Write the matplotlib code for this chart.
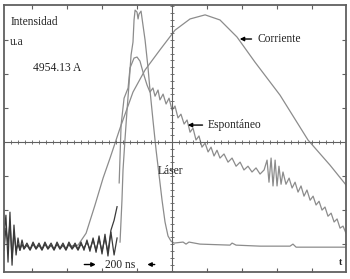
import numpy as np
import matplotlib
matplotlib.use('Agg')
import matplotlib.pyplot as plt

# tiempo en ns (200 ns por división, 0 en la línea central), intensidad en divisiones (u.a)

# ruido de la línea base a la izquierda
t_ruido = [-960, -949, -937, -926, -914, -903, -891, -880, -869, -857, -846, -829, -811,
           -794, -777, -760, -743, -726, -709, -691, -674, -657, -640, -623, -606, -589,
           -571, -554, -537, -520, -503, -486, -469, -451, -434, -417, -400, -383, -366,
           -349, -331, -314]
ruido_laser = [-2.74, -2.15, -3.53, -2.06, -3.62, -2.44, -3.32, -2.82, -3.18, -2.88, -3.12,
               -2.97, -3.15, -2.94, -3.12, -2.97, -3.15, -2.94, -3.12, -2.97, -3.15, -2.94,
               -3.12, -2.97, -3.15, -2.94, -3.12, -2.97, -3.15, -2.94, -3.18, -2.88, -3.21,
               -2.82, -3.24, -2.76, -3.29, -2.71, -3.35, -2.65, -3.32, -2.82]
ruido_esp = [-3.18, -2.53, -3.00, -2.35, -3.41, -2.65, -3.18, -3.00, -3.18, -3.00, -3.15,
             -3.03, -3.18, -3.00, -3.15, -3.03, -3.18, -3.00, -3.15, -3.03, -3.18, -3.00,
             -3.15, -3.03, -3.18, -3.00, -3.15, -3.03, -3.18, -3.00, -3.12, -2.94, -3.15,
             -2.88, -3.18, -2.85, -3.21, -2.82, -3.24, -2.59, -2.30, -1.90]

# Láser
t_laser = [-297, -286, -280, -269, -257, -246, -234, -223, -217, -211, -200, -194, -189,
           -177, -166, -154, -137, -126, -109, -91, -74, -57, -40, -23, -6, 11, 63, 80, 97,
           160, 331, 343, 366, 503, 674, 691, 709, 846, 994]
laser = [-2.94, -1.71, -0.82, 0.06, 0.94, 1.68, 2.56, 2.94, 3.59, 3.88, 3.82, 3.62, 3.76,
         3.85, 3.44, 3.00, 2.18, 1.53, 0.65, -0.24, -0.97, -1.71, -2.35, -2.76, -2.91,
         -2.97, -2.94, -3.00, -2.94, -3.00, -3.03, -2.97, -3.03, -3.06, -3.06, -3.00,
         -3.09, -3.09, -3.09]

# Espontáneo
t_esp = [-302, -291, -274, -251, -240, -217, -200, -183, -166, -143, -126, -109, -97, -80,
         -69, -51, -34, -17, 0, 17, 34, 51, 69, 86, 103, 120, 137, 154, 171, 189, 206, 223,
         240, 257, 274, 297, 320, 343, 366, 389, 411, 434, 457, 480, 503, 526, 543, 554,
         566, 577, 589, 600, 611, 623, 634, 651, 669, 686, 703, 720, 737, 754, 771, 789,
         806, 823, 840, 857, 874, 891, 909, 926, 943, 960, 977, 994]
esp = [-1.20, 0.50, 1.29, 1.59, 2.18, 2.47, 2.50, 2.38, 2.06, 1.68, 1.47, 1.59, 1.35, 1.53,
       1.24, 1.41, 1.12, 1.29, 0.94, 1.06, 0.71, 0.82, 0.53, 0.65, 0.29, 0.41, 0.06, 0.18,
       -0.15, -0.03, -0.29, -0.15, -0.41, -0.24, -0.47, -0.35, -0.59, -0.47, -0.71, -0.59,
       -0.82, -0.71, -0.88, -0.76, -0.94, -0.82, -0.53, -1.18, -0.47, -1.29, -0.53, -1.29,
       -0.71, -1.24, -0.88, -1.24, -1.06, -1.35, -1.18, -1.47, -1.29, -1.59, -1.41, -1.71,
       -1.59, -1.85, -1.74, -2.00, -1.91, -2.18, -2.09, -2.35, -2.26, -2.53, -2.47, -2.68]

# Corriente
t_corr = [-583, -537, -491, -440, -394, -354, -297, -223, -154, -69, 17, 103, 189, 274,
          371, 474, 617, 777, 903, 994]
corr = [-3.06, -3.03, -2.68, -1.85, -1.06, -0.47, 0.41, 1.47, 2.12, 2.71, 3.29, 3.62,
        3.74, 3.59, 3.09, 2.35, 1.38, 0.06, -0.68, -1.26]

fig = plt.figure(figsize=(3.5, 2.79), dpi=100)
ax = fig.add_axes([4/350, 7/279, 342/350, 267/279])

gris = '#8c8c8c'
oscuro = '#3a3a3a'
marco = '#606060'

ax.plot(t_corr, corr, color=gris, lw=0.9)
ax.plot(t_esp, esp, color=gris, lw=0.9)
ax.plot(t_laser, laser, color=gris, lw=0.9)
ax.plot(t_ruido, ruido_esp, color=oscuro, lw=0.9)
ax.plot(t_ruido, ruido_laser, color=oscuro, lw=0.9)

ax.set_xlim(-960, 994)
ax.set_ylim(-3.82, 4.03)

# retícula central
ax.axhline(0, color=marco, lw=0.8)
ax.axvline(0, color=marco, lw=0.8)
xs = np.arange(-960, 995, 40)
ax.plot(xs, np.zeros_like(xs), ls='none', marker='|', ms=3, mew=0.6, color=marco)
ys = np.arange(-3.8, 4.05, 0.2)
ax.plot(np.zeros_like(ys), ys, ls='none', marker='_', ms=3, mew=0.6, color=marco)

ax.set_xticks([-800, -600, -400, -200, 200, 400, 600, 800])
ax.set_yticks([-3, -2, -1, 1, 2, 3])
ax.tick_params(direction='in', length=3, width=0.8, color=marco,
               top=True, right=True, labelbottom=False, labelleft=False)
for s in ax.spines.values():
    s.set_color(marco)
    s.set_linewidth(1.3)

fuente = dict(family='Liberation Serif', fontsize=8.3, color='#222222')
ax.text(0.018, 0.935, 'Intensidad', transform=ax.transAxes, va='center', **fuente)
ax.text(0.018, 0.86, 'u.a', transform=ax.transAxes, va='center', **fuente)
ax.text(0.085, 0.765, '4954.13 A', transform=ax.transAxes, va='center', **fuente)

flecha = dict(arrowstyle='-|>', color='black', lw=1.0, mutation_scale=6)
ax.annotate('Corriente', xy=(371, 3.03), xytext=(486, 3.03), va='center',
            arrowprops=flecha, **fuente)
ax.annotate('Espontáneo', xy=(74, 0.50), xytext=(206, 0.50), va='center',
            arrowprops=flecha, **fuente)
ax.text(-80, -0.85, 'Láser', va='center', **fuente)
ax.text(-297, -3.6, '200 ns', ha='center', va='center', **fuente)
ax.annotate('', xy=(-420, -3.6), xytext=(-517, -3.6), arrowprops=flecha)
ax.annotate('', xy=(-157, -3.6), xytext=(-83, -3.6), arrowprops=flecha)
ax.text(960, -3.55, 't', ha='center', va='center', family='Liberation Serif',
        fontsize=7, fontweight='bold', color='#222222')

fig.savefig('out.png', dpi=100)
